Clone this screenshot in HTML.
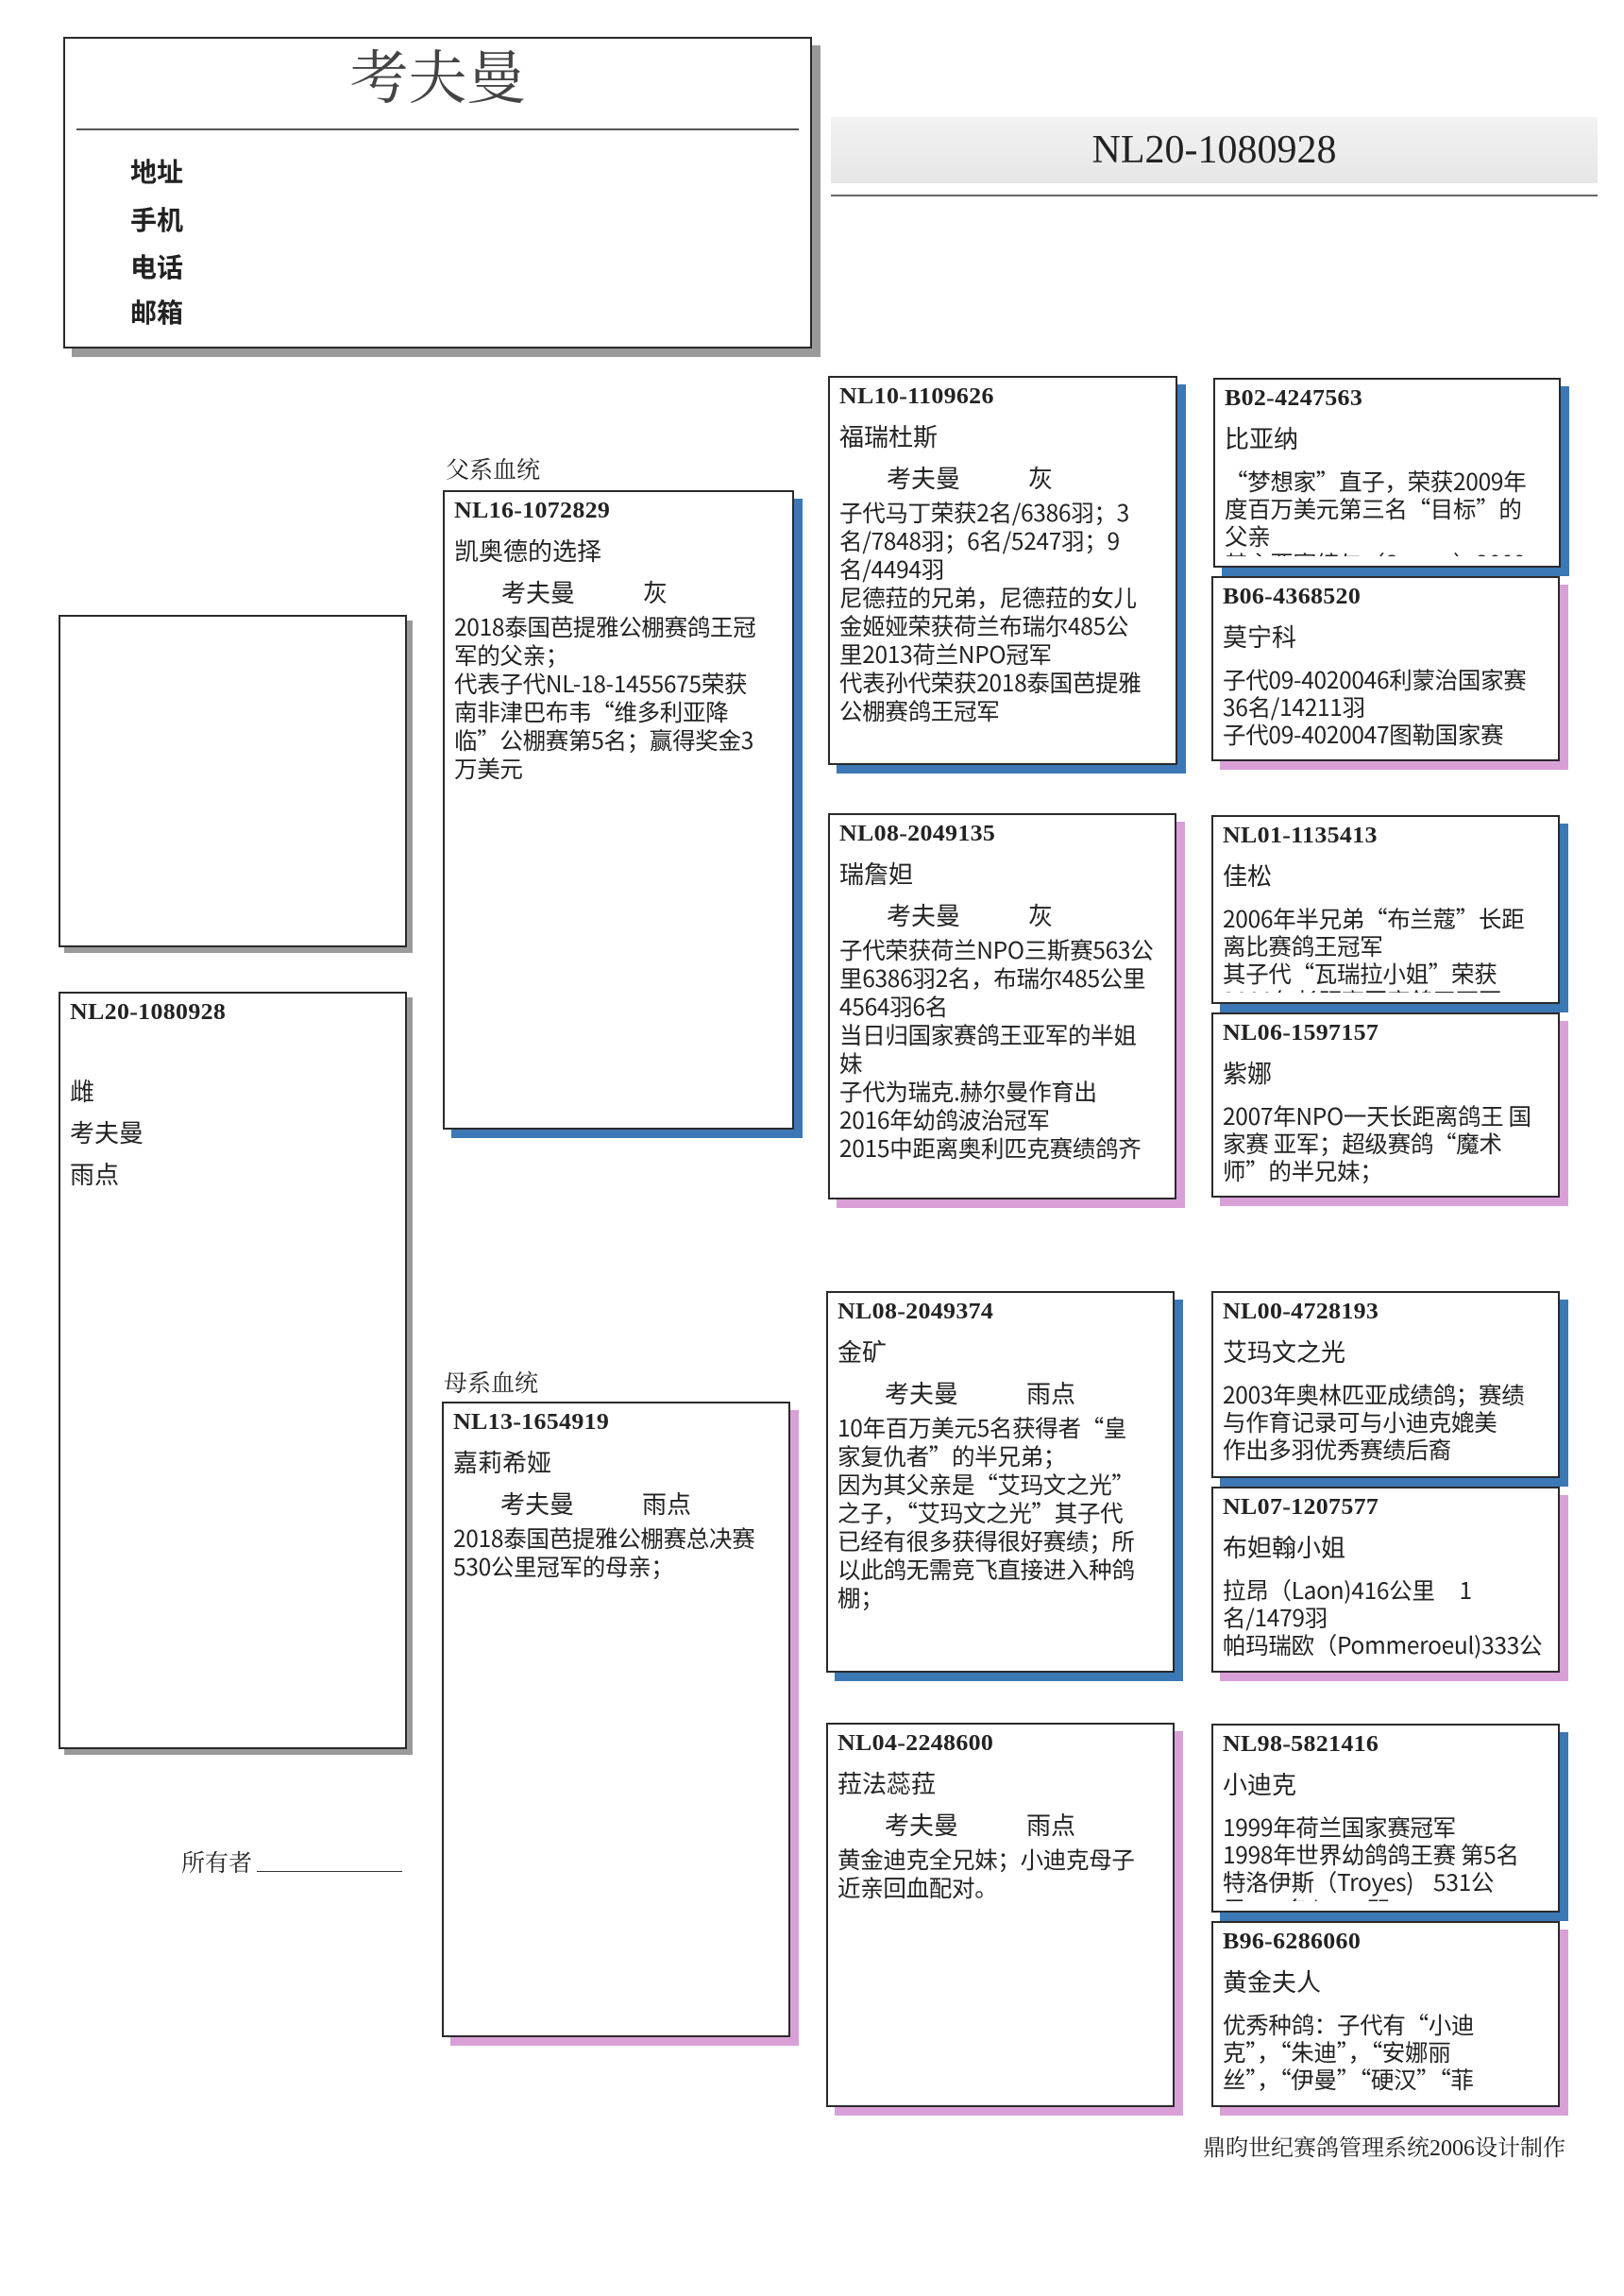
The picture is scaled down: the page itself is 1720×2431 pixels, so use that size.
<!DOCTYPE html>
<html><head><meta charset="utf-8">
<style>
*{margin:0;padding:0;box-sizing:border-box}
body{width:1720px;height:2431px;background:#fff;position:relative;overflow:hidden;font-family:"Liberation Sans","Noto Sans CJK SC",sans-serif;color:#222}
.a{position:absolute}
.box{position:absolute;border:2px solid #2a2a2a;background:#fff;overflow:hidden}
.sb{box-shadow:9px 9px 0 #3b78b5}
.sp{box-shadow:9px 9px 0 #d9a0d8}
.sg{box-shadow:9px 9px 0 #9a9a9a}
.in{position:absolute;left:10px;right:6px;top:0;bottom:2px;overflow:hidden}
.id{height:40px;line-height:40px;font-family:"Liberation Serif","Noto Serif CJK SC",serif;font-weight:bold;font-size:24px;letter-spacing:0.3px;transform:scaleX(1.08);transform-origin:left}
.nm{height:46px;line-height:46px;font-size:26px}
.cl{height:42px;line-height:42px;font-size:26px;padding-left:50px;white-space:nowrap}
.cl span{display:inline-block;width:150px}
.tx{font-family:"Noto Sans CJK SC","Liberation Sans",sans-serif;font-size:24.5px;line-height:30px;white-space:nowrap;letter-spacing:-0.3px}
.c4 .tx{line-height:29px}
.c4 .nm{height:53px;line-height:46px}
.lab{font-family:"Liberation Serif","Noto Serif CJK SC",serif;font-size:25px}
</style></head><body>

<div class="box sg" style="left:67px;top:39px;width:793px;height:330px"></div>
<div class="a" style="left:67px;top:44px;width:793px;text-align:center;font-family:'Liberation Serif','Noto Serif CJK SC',serif;font-size:62px;color:#444;line-height:80px">考夫曼</div>
<div class="a" style="left:81px;top:136px;width:765px;height:2px;background:#555"></div>
<div class="a" style="left:138px;top:166px;font-size:28px;font-weight:bold;line-height:34px">地址</div>
<div class="a" style="left:138px;top:217px;font-size:28px;font-weight:bold;line-height:34px">手机</div>
<div class="a" style="left:138px;top:267px;font-size:28px;font-weight:bold;line-height:34px">电话</div>
<div class="a" style="left:138px;top:315px;font-size:28px;font-weight:bold;line-height:34px">邮箱</div>

<div class="a" style="left:880px;top:124px;width:812px;height:70px;background:linear-gradient(#f2f2f2,#e6e6e6)"></div>
<div class="a" style="left:880px;top:136px;width:812px;text-align:center;font-family:'Liberation Serif',serif;font-size:42px;line-height:46px;color:#222">NL20-1080928</div>
<div class="a" style="left:880px;top:206px;width:812px;height:2px;background:#666"></div>

<div class="box sg" style="left:62px;top:651px;width:369px;height:352px;box-shadow:6px 6px 0 #9a9a9a"></div>
<div class="box sg" style="left:62px;top:1050px;width:369px;height:802px;box-shadow:6px 6px 0 #9a9a9a">
 <div class="in"><div class="id" style="margin-top:0">NL20-1080928</div>
 <div style="font-size:26px;line-height:44px;margin-top:42px">雌<br>考夫曼<br>雨点</div></div>
</div>
<div class="a lab" style="left:192px;top:1953px">所有者</div>
<div class="a" style="left:272px;top:1981px;width:154px;height:1px;background:#333"></div>

<div class="a lab" style="left:472px;top:478px">父系血统</div>
<div class="box sb" style="left:469px;top:519px;width:372px;height:677px"><div class="in">
<div class="id">NL16-1072829</div><div class="nm">凯奥德的选择</div><div class="cl"><span>考夫曼</span>灰</div>
<div class="tx">2018泰国芭提雅公棚赛鸽王冠<br>军的父亲；<br>代表子代NL-18-1455675荣获<br>南非津巴布韦“维多利亚降<br>临”公棚赛第5名；赢得奖金3<br>万美元</div></div></div>

<div class="a lab" style="left:470px;top:1445px">母系血统</div>
<div class="box sp" style="left:468px;top:1484px;width:369px;height:673px"><div class="in">
<div class="id">NL13-1654919</div><div class="nm">嘉莉希娅</div><div class="cl"><span>考夫曼</span>雨点</div>
<div class="tx">2018泰国芭提雅公棚赛总决赛<br>530公里冠军的母亲；</div></div></div>

<div class="box sb" style="left:877px;top:398px;width:370px;height:412px"><div class="in">
<div class="id">NL10-1109626</div><div class="nm">福瑞杜斯</div><div class="cl"><span>考夫曼</span>灰</div>
<div class="tx">子代马丁荣获2名/6386羽；3<br>名/7848羽；6名/5247羽；9<br>名/4494羽<br>尼德菈的兄弟，尼德菈的女儿<br>金姬娅荣获荷兰布瑞尔485公<br>里2013荷兰NPO冠军<br>代表孙代荣获2018泰国芭提雅<br>公棚赛鸽王冠军</div></div></div>

<div class="box sp" style="left:877px;top:861px;width:369px;height:409px"><div class="in">
<div class="id">NL08-2049135</div><div class="nm">瑞詹妲</div><div class="cl"><span>考夫曼</span>灰</div>
<div class="tx">子代荣获荷兰NPO三斯赛563公<br>里6386羽2名，布瑞尔485公里<br>4564羽6名<br>当日归国家赛鸽王亚军的半姐<br>妹<br>子代为瑞克.赫尔曼作育出<br>2016年幼鸽波治冠军<br>2015中距离奥利匹克赛绩鸽齐</div></div></div>

<div class="box sb" style="left:875px;top:1367px;width:369px;height:404px"><div class="in">
<div class="id">NL08-2049374</div><div class="nm">金矿</div><div class="cl"><span>考夫曼</span>雨点</div>
<div class="tx">10年百万美元5名获得者“皇<br>家复仇者”的半兄弟；<br>因为其父亲是“艾玛文之光”<br>之子，“艾玛文之光”其子代<br>已经有很多获得很好赛绩；所<br>以此鸽无需竞飞直接进入种鸽<br>棚；</div></div></div>

<div class="box sp" style="left:875px;top:1824px;width:369px;height:407px"><div class="in">
<div class="id">NL04-2248600</div><div class="nm">菈法蕊菈</div><div class="cl"><span>考夫曼</span>雨点</div>
<div class="tx">黄金迪克全兄妹；小迪克母子<br>近亲回血配对。</div></div></div>

<div class="box sb c4" style="left:1285px;top:400px;width:368px;height:201px"><div class="in" style="bottom:10px">
<div class="id">B02-4247563</div><div class="nm">比亚纳</div>
<div class="tx">“梦想家”直子，荣获2009年<br>度百万美元第三名“目标”的<br>父亲<br>其主要赛绩与（Samm）2009</div></div></div>

<div class="box sp c4" style="left:1283px;top:610px;width:369px;height:196px"><div class="in" style="bottom:10px">
<div class="id">B06-4368520</div><div class="nm">莫宁科</div>
<div class="tx">子代09-4020046利蒙治国家赛<br>36名/14211羽<br>子代09-4020047图勒国家赛<br>555名/22222羽</div></div></div>

<div class="box sb c4" style="left:1283px;top:863px;width:369px;height:200px"><div class="in" style="bottom:10px">
<div class="id">NL01-1135413</div><div class="nm">佳松</div>
<div class="tx">2006年半兄弟“布兰蔻”长距<br>离比赛鸽王冠军<br>其子代“瓦瑞拉小姐”荣获<br>2008年长距离国家鸽王亚军</div></div></div>

<div class="box sp c4" style="left:1283px;top:1072px;width:369px;height:196px"><div class="in" style="bottom:10px">
<div class="id">NL06-1597157</div><div class="nm">紫娜</div>
<div class="tx">2007年NPO一天长距离鸽王 国<br>家赛 亚军；超级赛鸽“魔术<br>师”的半兄妹；<br>子代荣获（Sc）100公里冠军</div></div></div>

<div class="box sb c4" style="left:1283px;top:1367px;width:369px;height:198px"><div class="in" style="bottom:10px">
<div class="id">NL00-4728193</div><div class="nm">艾玛文之光</div>
<div class="tx">2003年奥林匹亚成绩鸽；赛绩<br>与作育记录可与小迪克媲美<br>作出多羽优秀赛绩后裔</div></div></div>

<div class="box sp c4" style="left:1283px;top:1574px;width:369px;height:197px"><div class="in" style="bottom:10px">
<div class="id">NL07-1207577</div><div class="nm">布妲翰小姐</div>
<div class="tx">拉昂（Laon)416公里&nbsp;&nbsp;&nbsp;&nbsp; 1<br>名/1479羽<br>帕玛瑞欧（Pommeroeul)333公<br>里&nbsp;&nbsp;&nbsp;11名/2222羽</div></div></div>

<div class="box sb c4" style="left:1283px;top:1825px;width:369px;height:200px"><div class="in" style="bottom:10px">
<div class="id">NL98-5821416</div><div class="nm">小迪克</div>
<div class="tx">1999年荷兰国家赛冠军<br>1998年世界幼鸽鸽王赛 第5名<br>特洛伊斯（Troyes)&nbsp;&nbsp;&nbsp; 531公<br>里&nbsp;&nbsp;&nbsp;11名/1111羽</div></div></div>

<div class="box sp c4" style="left:1283px;top:2034px;width:369px;height:197px"><div class="in" style="bottom:10px">
<div class="id">B96-6286060</div><div class="nm">黄金夫人</div>
<div class="tx">优秀种鸽：子代有“小迪<br>克”，“朱迪”，“安娜丽<br>丝”，“伊曼”“硬汉”“菲<br>莉丝”，“黄金比”，“小比”</div></div></div>

<div class="a lab" style="right:62px;top:2254px;font-size:24px">鼎昀世纪赛鸽管理系统2006设计制作</div>
</body></html>
